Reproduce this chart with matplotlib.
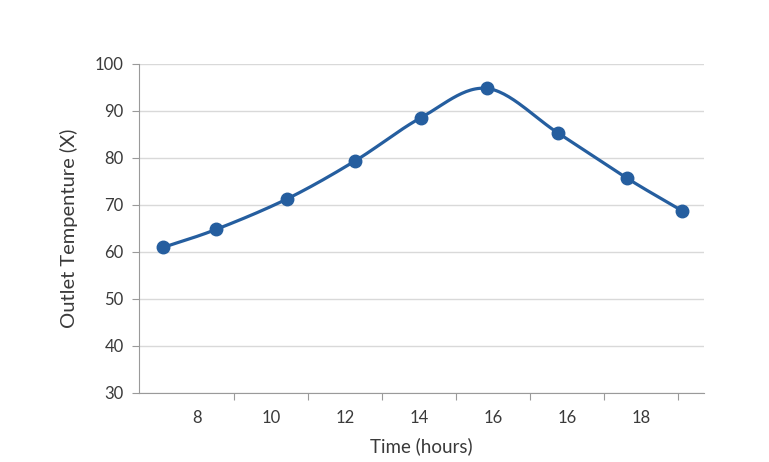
import matplotlib.pyplot as plt
import numpy as np

# x positions on the label scale (label i sits at position i)
x_pos = [-0.45, 0.26, 1.22, 2.14, 3.03, 3.92, 4.88, 5.81, 6.55]
temps = [61.0, 64.8, 71.3, 79.4, 88.6, 94.8, 85.3, 75.7, 68.8]
tick_labels = ['8', '10', '12', '14', '16', '16', '18']
y_ticks = [30, 40, 50, 60, 70, 80, 90, 100]

blue = '#255e9f'
grey_txt = '#3a3a3a'
plt.rcParams['font.family'] = ['Lato', 'DejaVu Sans']


def smooth(xs, ys, n=30):
    # Catmull-Rom through the points, like a spreadsheet smoothed line
    xs = np.asarray(xs, float)
    ys = np.asarray(ys, float)
    px = np.concatenate([[2 * xs[0] - xs[1]], xs, [2 * xs[-1] - xs[-2]]])
    py = np.concatenate([[2 * ys[0] - ys[1]], ys, [2 * ys[-1] - ys[-2]]])
    ox, oy = [], []
    t = np.linspace(0, 1, n)
    for k in range(1, len(px) - 2):
        for p, out in ((px, ox), (py, oy)):
            p0, p1, p2, p3 = p[k - 1], p[k], p[k + 1], p[k + 2]
            out.extend(0.5 * (2 * p1 + (-p0 + p2) * t
                              + (2 * p0 - 5 * p1 + 4 * p2 - p3) * t ** 2
                              + (-p0 + 3 * p1 - 3 * p2 + p3) * t ** 3))
    return ox, oy


fig = plt.figure(figsize=(7.69, 4.62), dpi=100)
ax = fig.add_axes([0.1808, 0.1494, 0.7347, 0.7121])

sx, sy = smooth(x_pos, temps)
ax.plot(sx, sy, color=blue, lw=2.3, zorder=3, solid_capstyle='round')
ax.plot(x_pos, temps, 'o', color=blue, ms=9, zorder=4)

ax.set_xlim(-0.78, 6.85)
ax.set_ylim(30, 100)
ax.set_yticks(y_ticks)
ax.yaxis.grid(True, color='#d9d9d9', lw=1)
ax.set_axisbelow(True)

# tick marks between labels, labels centred on the gaps
ax.set_xticks(np.arange(len(tick_labels)) + 0.5)
ax.set_xticklabels([])
ax.set_xticks(np.arange(len(tick_labels)), minor=True)
ax.set_xticklabels(tick_labels, minor=True)
ax.tick_params(axis='both', which='both', labelsize=12, labelcolor=grey_txt)
ax.tick_params(axis='x', which='minor', length=0, pad=12)
ax.tick_params(axis='x', which='major', length=5, color='#9a9a9a')
ax.tick_params(axis='y', length=5, color='#9a9a9a', pad=6)

for s in ('top', 'right'):
    ax.spines[s].set_visible(False)
for s in ('left', 'bottom'):
    ax.spines[s].set_color('#9a9a9a')

ax.set_xlabel('Time (hours)', fontsize=13.5, color=grey_txt, labelpad=8)
ax.set_ylabel('Outlet Tempenture (X)', fontsize=14.5, color=grey_txt, labelpad=12)

fig.savefig('out.png', dpi=100)
